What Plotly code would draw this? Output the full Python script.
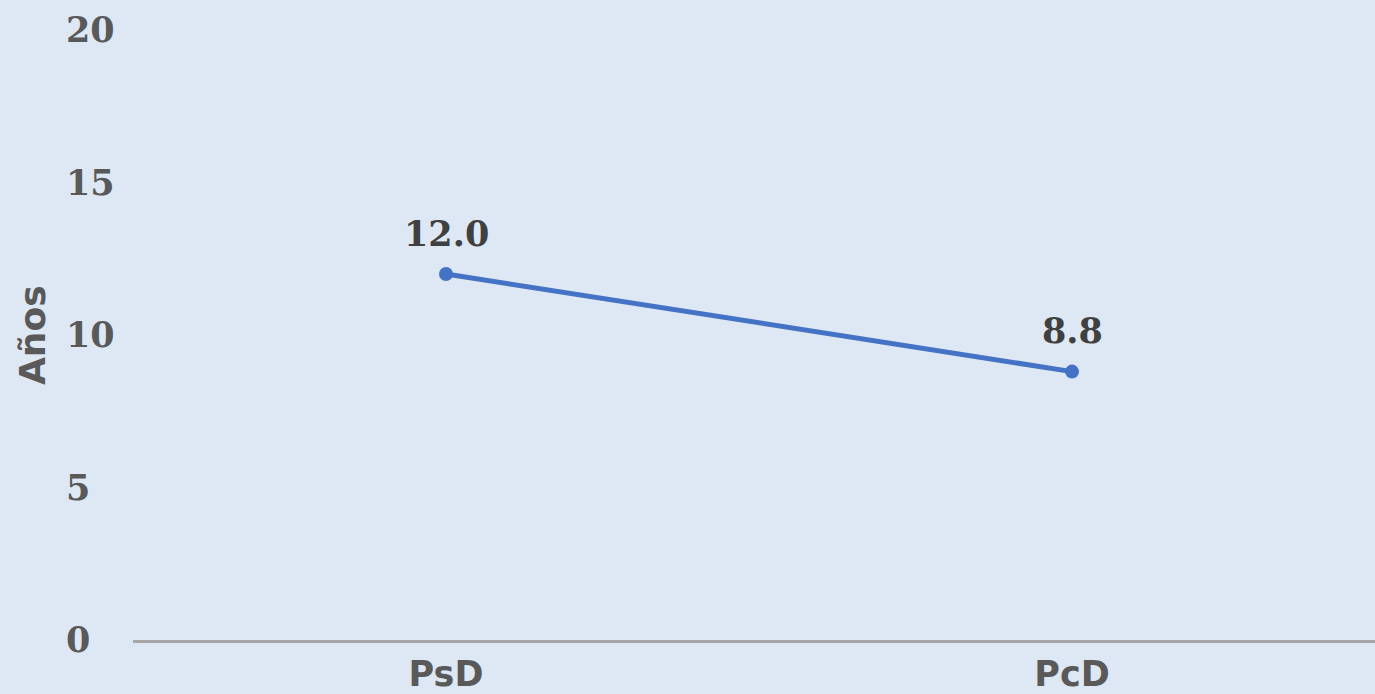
import plotly.graph_objects as go

categories = ["PsD", "PcD"]
values = [12.0, 8.8]
y_ticks = [0, 5, 10, 15, 20]
y_title = "Años"

BG = "#dde8f4"

fig = go.Figure()
fig.add_trace(go.Scatter(
    x=categories, y=values,
    mode="lines+markers",
    line=dict(color="#4472c4", width=5),
    marker=dict(color="#4472c4", size=14),
    cliponaxis=False,
    hoverinfo="skip",
))

for c, v in zip(categories, values):
    fig.add_annotation(
        x=c, y=v, xref="x", yref="y",
        text=f"{v:.1f}", showarrow=False,
        yshift=41, xanchor="center", yanchor="middle",
        font=dict(family="DejaVu Serif", size=35, color="#404040", weight="bold"),
    )

fig.update_layout(
    width=1375, height=694,
    paper_bgcolor=BG, plot_bgcolor=BG,
    margin=dict(l=0, r=0, t=30, b=54, autoexpand=False),
    showlegend=False,
    xaxis=dict(
        domain=[133/1375, 1.0],
        type="category",
        range=[-0.5, 1.484],
        automargin=False,
        showgrid=False, zeroline=False,
        showline=True, linecolor="#a6a6a6", linewidth=3,
        ticks="outside", ticklen=1, tickcolor="rgba(0,0,0,0)",
        tickfont=dict(family="DejaVu Sans", size=35, color="#595959", weight="bold"),
    ),
    yaxis=dict(
        range=[0, 20],
        tickvals=y_ticks,
        anchor="free", position=62/1375,
        automargin=False,
        ticklabelposition="inside",
        ticklabeloverflow="allow",
        showgrid=False, zeroline=False, showline=False,
        ticks="",
        tickfont=dict(family="DejaVu Serif", size=35, color="#595959", weight="bold"),
    ),
)

fig.add_annotation(
    text=y_title, textangle=-90,
    xref="paper", yref="paper", x=32/1375, y=0.5,
    xanchor="center", yanchor="middle", showarrow=False,
    font=dict(family="DejaVu Sans", size=36, color="#595959", weight="bold"),
)

fig.write_html(
    "out.html",
    config={"displayModeBar": False},
    post_script="document.body.style.margin='0';document.body.style.overflow='hidden';",
)
